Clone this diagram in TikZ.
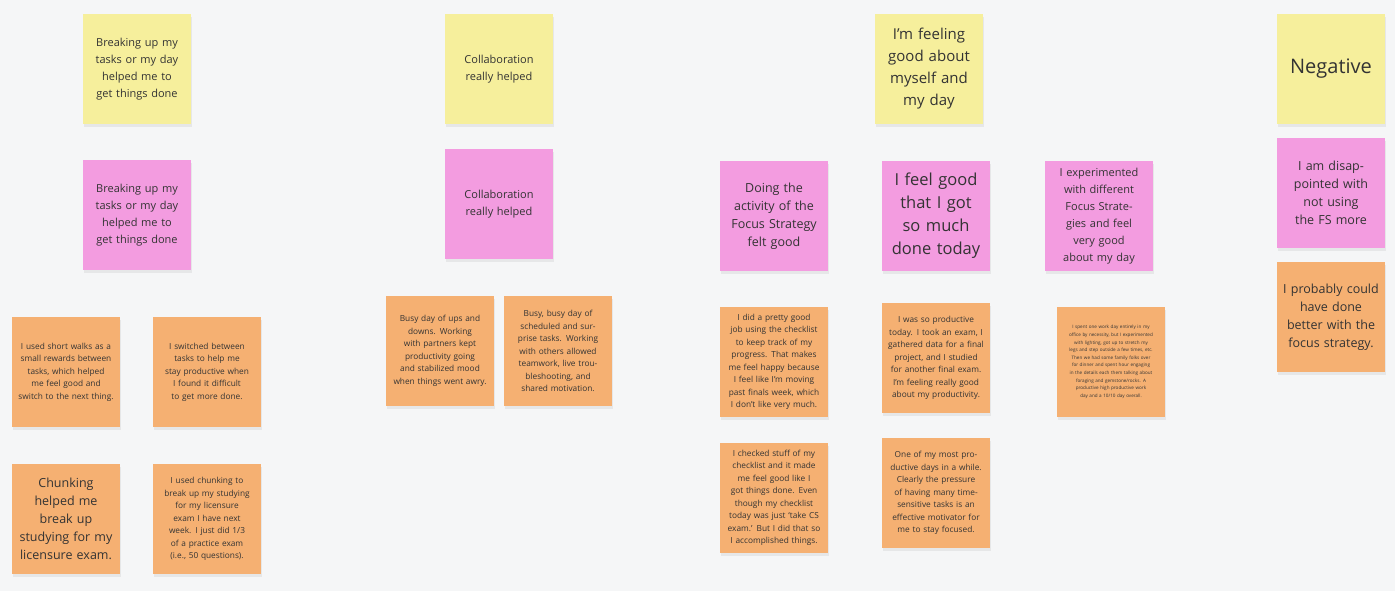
\documentclass[tikz,border=0pt]{standalone}
\usepackage{fontspec}
\setmainfont{Open Sans}
\usetikzlibrary{shadows}
\definecolor{boardbg}{HTML}{F5F6F7}
\definecolor{stickyyellow}{HTML}{F6EF9C}
\definecolor{stickypink}{HTML}{F39CE0}
\definecolor{stickyorange}{HTML}{F5B072}
\tikzset{
  sticky/.style={draw=none,minimum width=108pt,minimum height=110pt,text width=96pt,
    align=center,inner sep=0pt,text=black!80,
    drop shadow={shadow xshift=1pt,shadow yshift=-3pt,opacity=0.12}},
  yellow/.style={sticky,fill=stickyyellow},
  pink/.style={sticky,fill=stickypink},
  orange/.style={sticky,fill=stickyorange},
  big/.style={font=\fontsize{15}{22}\selectfont},
  mid/.style={font=\fontsize{12.5}{18}\selectfont},
  std/.style={font=\fontsize{11}{17}\selectfont},
  small/.style={font=\fontsize{8.3}{12.5}\selectfont},
  tiny/.style={font=\fontsize{4.6}{7.6}\selectfont},
}
\begin{document}
\begin{tikzpicture}[x=1pt,y=-1pt]
\fill[boardbg] (0,0) rectangle (1395,591);
\useasboundingbox (0,0) rectangle (1395,591);
%% headers
  \node (hbreak) at (137,69) [yellow,std] {Breaking up my tasks or my day helped me to get things done};
  \node (hcollab) at (499,69) [yellow,std] {Collaboration really helped};
  \node (hgood) at (929,69) [yellow,big] {I'm feeling good about myself and my day};
  \node (hneg) at (1331,69) [yellow,font=\fontsize{20}{24}\selectfont] {Negative};
%% pink
  \node (pbreak) at (137,215) [pink,std] {Breaking up my tasks or my day helped me to get things done};
  \node (pcollab) at (499,204) [pink,std] {Collaboration really helped};
  \node (pactivity) at (774,216) [pink,mid] {Doing the activity of the Focus Strategy felt good};
  \node (pdone) at (936,216) [pink,font=\fontsize{16.5}{23}\selectfont] {I feel good that I got so much done today};
  \node (pexperiment) at (1099,216) [pink,std,text width=80pt] {I experimented with different Focus Strategies and feel very good about my day};
  \node (pdisappoint) at (1331,193) [pink,mid] {I am disappointed with not using the FS more};
%% orange
  \node (owalks) at (66,372) [orange,small] {I used short walks as a small rewards between tasks, which helped me feel good and switch to the next thing.};
  \node (oswitch) at (207,372) [orange,small] {I switched between tasks to help me stay productive when I found it difficult to get more done.};
  \node (ochunk) at (66,519) [orange,mid] {Chunking helped me break up studying for my licensure exam.};
  \node (ochunkexam) at (207,519) [orange,small] {I used chunking to break up my studying for my licensure exam I have next week. I just did 1/3 of a practice exam (i.e., 50 questions).};
  \node (oups) at (440,351) [orange,small] {Busy day of ups and downs. Working with partners kept productivity going and stabilized mood when things went awry.};
  \node (obusy) at (558,351) [orange,small] {Busy, busy day of scheduled and surprise tasks. Working with others allowed teamwork, live troubleshooting, and shared motivation.};
  \node (ochecklist) at (774,362) [orange,small] {I did a pretty good job using the checklist to keep track of my progress. That makes me feel happy because I feel like I'm moving past finals week, which I don't like very much.};
  \node (oproductive) at (936,358) [orange,small] {I was so productive today. I took an exam, I gathered data for a final project, and I studied for another final exam. I'm feeling really good about my productivity.};
  \node (ooffice) at (1111,362) [orange,tiny,text width=84pt] {I spent one work day entirely in my office by necessity, but I experimented with lighting, got up to stretch my legs and step outside a few times, etc. Then we had some family folks over for dinner and spent hour engaging in the details each them talking about foraging and gemstone/rocks. A productive high productive work day and a 10/10 day overall.};
  \node (ochecked) at (774,498) [orange,small] {I checked stuff of my checklist and it made me feel good like I got things done. Even though my checklist today was just `take CS exam.' But I did that so I accomplished things.};
  \node (omost) at (936,493) [orange,small] {One of my most productive days in a while. Clearly the pressure of having many time-sensitive tasks is an effective motivator for me to stay focused.};
  \node (obetter) at (1331,317) [orange,mid] {I probably could have done better with the focus strategy.};
%
\end{tikzpicture}
\end{document}
